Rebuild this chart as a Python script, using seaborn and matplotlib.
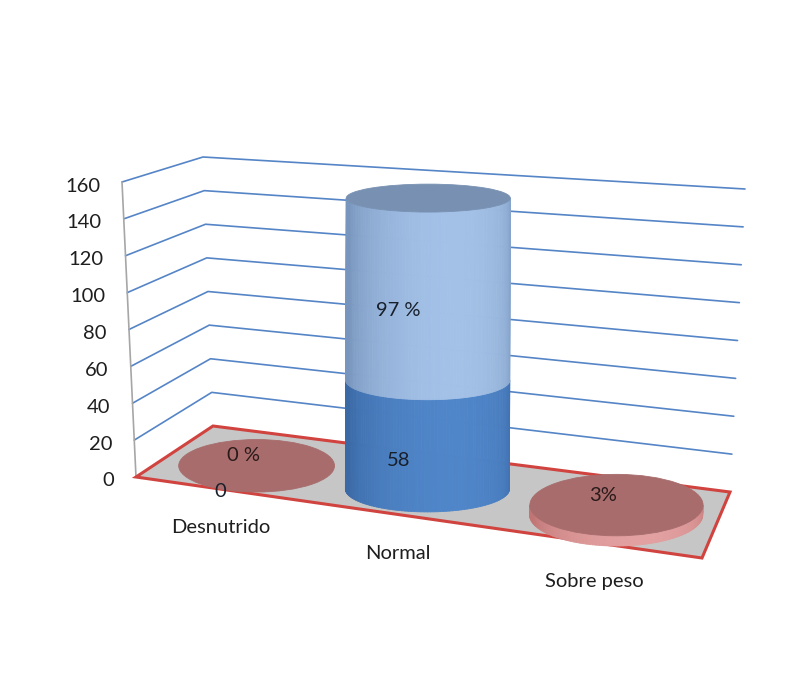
import numpy as np
import pandas as pd
import matplotlib
matplotlib.use("Agg")
import matplotlib.pyplot as plt
import seaborn as sns
from matplotlib.patches import Ellipse, Polygon
from matplotlib.collections import PolyCollection
from matplotlib.colors import to_rgb

# ---- data -------------------------------------------------------------
categories = ["Desnutrido", "Normal", "Sobre peso"]
counts = [0, 58, 2]
percents = [0, 97, 3]
count_labels = ["0", "58", ""]
percent_labels = ["0 %", "97 %", "3%"]
y_ticks = [0, 20, 40, 60, 80, 100, 120, 140, 160]

# ---- style ------------------------------------------------------------
sns.set_theme(style="white")
plt.rcParams["font.family"] = ["Lato", "DejaVu Sans"]
FS = 14.5

W, H = 812, 675
fig = plt.figure(figsize=(W / 100, H / 100), dpi=100)
ax = fig.add_axes([0, 0, 1, 1])

VMAX = y_ticks[-1]
# plot box corners in pixels: (floor, top) for each vertical edge
FL = ((136, 477), (122, 182))
FR = ((702, 558), (718, 225))
BL = ((213, 426), (203, 157))
BR = ((730, 492), (745, 189))

# horizontal slot of each category across the floor, depth of the row
slot_u = [0.158, 0.472, 0.819]
row_z = 0.45


def proj(u, z, v):
    """Map (across, depth, value) to pixel position in the 3-D box."""
    t = v / VMAX

    def lerp(c):
        return np.array(c[0], float) * (1 - t) + np.array(c[1], float) * t

    fl, fr, bl, br = lerp(FL), lerp(FR), lerp(BL), lerp(BR)
    front = fl * (1 - u) + fr * u
    back = bl * (1 - u) + br * u
    return front * (1 - z) + back * z


# ---- walls: gridlines drawn with seaborn ------------------------------
rows = []
for v in y_ticks[1:]:
    for k, (u, z) in enumerate([(0, 0), (0, 1), (1, 1)]):
        x, y = proj(u, z, v)
        rows.append(dict(level=v, order=k, x=x, y=y))
grid = pd.DataFrame(rows)
sns.lineplot(data=grid, x="x", y="y", units="level", estimator=None,
             sort=False, color="#5585c6", lw=1.2, ax=ax, legend=False,
             zorder=1)

# left axis line
a0, a1 = proj(0, 0, 0), proj(0, 0, VMAX)
ax.plot([a0[0], a1[0]], [a0[1], a1[1]], color="#a6a6a6", lw=1.2, zorder=1)

# floor
floor = [proj(0, 0, 0), proj(1, 0, 0), proj(1, 1, 0), proj(0, 1, 0)]
ax.add_patch(Polygon(floor, closed=True, facecolor="#c6c6c6",
                     edgecolor="#d0433f", lw=2.2, zorder=2))

# tick labels
for v in y_ticks:
    p = proj(0, 0, v)
    ax.text(p[0] - 22, p[1] + 4, f"{v}", ha="right", va="center",
            fontsize=FS, color="#1e1e1e")


# ---- cylinders --------------------------------------------------------
def ellipse_ratio(y, boost):
    return (0.17 + 0.00037 * (y - 197)) * boost


def side(u, v0, v1, rx, edge, hi, boost, zorder):
    cb, ct = proj(u, row_z, v0), proj(u, row_z, v1)
    ryb, ryt = rx * ellipse_ratio(cb[1], boost), rx * ellipse_ratio(ct[1], boost)
    th = np.linspace(np.pi, 0, 81)
    edge, hi = np.array(to_rgb(edge)), np.array(to_rgb(hi))
    polys, cols = [], []
    for a, b in zip(th[:-1], th[1:]):
        polys.append([(cb[0] + rx * np.cos(a), cb[1] + ryb * np.sin(a)),
                      (cb[0] + rx * np.cos(b), cb[1] + ryb * np.sin(b)),
                      (ct[0] + rx * np.cos(b), ct[1] + ryt * np.sin(b)),
                      (ct[0] + rx * np.cos(a), ct[1] + ryt * np.sin(a))])
        m = 0.5 * (a + b)
        s = np.clip(np.cos(m - (np.pi / 2 - 0.3)), 0, 1) ** 0.9
        cols.append(edge * (1 - s) + hi * s)
    ax.add_collection(PolyCollection(polys, facecolors=cols, edgecolors=cols,
                                     linewidths=0.6, zorder=zorder))


def top_face(u, v, rx, color, boost, zorder):
    c = proj(u, row_z, v)
    ry = rx * ellipse_ratio(c[1], boost)
    ax.add_patch(Ellipse(c, 2 * rx, 2 * ry, facecolor=color,
                         edgecolor=color, lw=0.6, zorder=zorder))
    return c


styles = {
    "column": dict(seg=[("#3b69a6", "#4f86c9"), ("#7896bd", "#a3c1e7")],
                   top="#7891b3", boost=1.0),
    "disk": dict(seg=[("#c07474", "#e3a0a0"), ("#c07474", "#e3a0a0")],
                 top="#a86c6c", boost=1.25),
}
kind = ["disk", "column", "disk"]

for i, cat in enumerate(categories):
    u = slot_u[i]
    st = styles[kind[i]]
    rx = 82 * (1 + 0.16 * (u - 0.47))
    z0 = 3 + i
    bounds = [0, counts[i], counts[i] + percents[i]]
    for k in range(2):
        if bounds[k + 1] > bounds[k]:
            side(u, bounds[k], bounds[k + 1], rx, *st["seg"][k],
                 st["boost"], z0)
    tc = top_face(u, bounds[2], rx, st["top"], st["boost"], z0)

    # value labels
    if count_labels[i]:
        p = proj(u, 0, 0.5 * (bounds[0] + bounds[1]))
        ax.text(p[0] - 5, p[1] + 2, count_labels[i], ha="center",
                va="center", fontsize=FS, color="#18202c", zorder=10)
    if percents[i] >= 20:
        p = proj(u, 0, 0.5 * (bounds[1] + bounds[2]))
        ax.text(p[0] - 5, p[1] + 4, percent_labels[i], ha="center",
                va="center", fontsize=FS, color="#18202c", zorder=10)
    else:
        ax.text(tc[0] - 13, tc[1] - 10, percent_labels[i], ha="center",
                va="center", fontsize=FS, color="#2a1a1a", zorder=10)

    # category label
    p = proj(u, 0, 0)
    ax.text(p[0] - 5, p[1] + 38, cat, ha="center", va="center",
            fontsize=FS, color="#1e1e1e")

ax.set_xlim(0, W)
ax.set_ylim(H, 0)
ax.axis("off")
fig.savefig("out.png", dpi=100, facecolor="white")
